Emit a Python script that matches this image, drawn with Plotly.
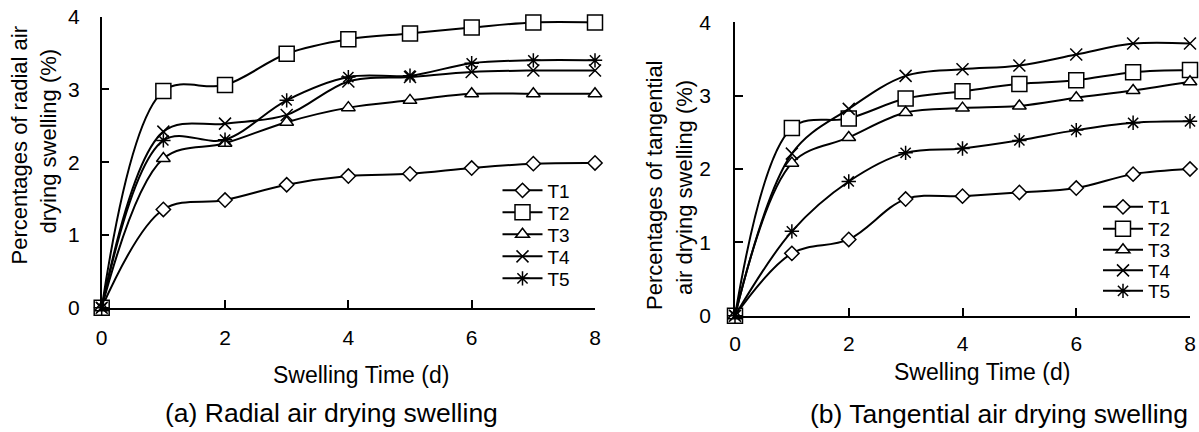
import plotly.graph_objects as go

# ---------------- data ----------------
days = [0, 1, 2, 3, 4, 5, 6, 7, 8]
series_names = ["T1", "T2", "T3", "T4", "T5"]

radial_T1 = [0, 1.35, 1.48, 1.69, 1.81, 1.84, 1.92, 1.98, 1.99]
radial_T2 = [0, 2.98, 3.06, 3.49, 3.69, 3.77, 3.85, 3.92, 3.92]
radial_T3 = [0, 2.05, 2.26, 2.55, 2.75, 2.85, 2.94, 2.94, 2.94]
radial_T4 = [0, 2.42, 2.53, 2.65, 3.11, 3.17, 3.24, 3.26, 3.26]
radial_T5 = [0, 2.30, 2.31, 2.85, 3.17, 3.19, 3.36, 3.40, 3.40]

tang_T1 = [0, 0.85, 1.04, 1.59, 1.63, 1.68, 1.74, 1.93, 2.00]
tang_T2 = [0, 2.56, 2.69, 2.96, 3.06, 3.16, 3.21, 3.32, 3.35]
tang_T3 = [0, 2.08, 2.43, 2.77, 2.83, 2.86, 2.97, 3.07, 3.19]
tang_T4 = [0, 2.21, 2.82, 3.27, 3.36, 3.41, 3.56, 3.71, 3.71]
tang_T5 = [0, 1.15, 1.83, 2.22, 2.28, 2.39, 2.53, 2.63, 2.65]

x_ticks = [0, 2, 4, 6, 8]
y_ticks = [0, 1, 2, 3, 4]

x_title = "Swelling Time (d)"
y_title_a = ["Percentages of radial air", "drying swelling (%)"]
y_title_b = ["Percentages of tangential", "air drying swelling (%)"]
caption_a = "(a) Radial air drying swelling"
caption_b = "(b) Tangential air drying swelling"

# ---------------- styling ----------------
W, H = 1199, 432
FONT = "Liberation Sans, Arial, sans-serif"
symbols = ["diamond", "square", "triangle-up", "x-thin-open", "asterisk-open"]
sizes = [11, 15, 12, 12, 12]
mcolors = ["white", "white", "white", "black", "black"]

def px(xp):
    return xp / W

def py(yp):
    return 1 - yp / H

fig = go.Figure()

radial = [radial_T1, radial_T2, radial_T3, radial_T4, radial_T5]
tang = [tang_T1, tang_T2, tang_T3, tang_T4, tang_T5]

leg_a_rows = [190.5, 212.5, 234.5, 256.5, 278.5]
leg_b_rows = [207.0, 229.0, 250.0, 270.5, 291.0]

for i, name in enumerate(series_names):
    for j, (data, xa, ya) in enumerate([(radial[i], "x", "y"), (tang[i], "x2", "y2")]):
        idx = 1 + i + 5 * j
        leg_id = "legend" if idx == 1 else f"legend{idx}"
        fig.add_trace(go.Scatter(
            x=days, y=data, name=name, mode="lines+markers",
            xaxis=xa, yaxis=ya, legend=leg_id, showlegend=True,
            line=dict(color="black", width=2, shape="spline", smoothing=1.0),
            marker=dict(symbol=symbols[i], size=sizes[i], color=mcolors[i],
                        line=dict(color="black", width=1.5)),
            cliponaxis=False,
        ))

axis_common = dict(
    showline=True, linecolor="black", linewidth=1.5,
    ticks="inside", ticklen=8, tickwidth=1.5, tickcolor="black",
    showgrid=False, zeroline=False, automargin=False,
    ticklabeloverflow="allow",
    tickfont=dict(family=FONT, size=21, color="black"),
)

layout = dict(
    template="none",
    width=W, height=H,
    margin=dict(l=0, r=0, t=0, b=0, autoexpand=False),
    paper_bgcolor="white", plot_bgcolor="white",
    showlegend=True,
    font=dict(family=FONT, color="black"),
    xaxis=dict(domain=[px(101.7), px(595)], range=[0, 8], tickvals=x_ticks,
               anchor="y", ticklabelstandoff=10, **axis_common),
    yaxis=dict(domain=[py(307.7), py(16.7)], range=[0, 4], tickvals=y_ticks,
               anchor="x", ticklabelstandoff=16, **axis_common),
    xaxis2=dict(domain=[px(735), px(1190)], range=[0, 8], tickvals=x_ticks,
                anchor="y2", ticklabelstandoff=8, **axis_common),
    yaxis2=dict(domain=[py(315.7), py(22.3)], range=[0, 4], tickvals=y_ticks,
                anchor="x2", ticklabelstandoff=18, **axis_common),
)

for k in range(10):
    key = "legend" if k == 0 else f"legend{k + 1}"
    if k < 5:
        lx, ly = px(497.5), py(leg_a_rows[k])
    else:
        lx, ly = px(1098), py(leg_b_rows[k - 5])
    layout[key] = dict(x=lx, y=ly, xanchor="left", yanchor="middle",
                       bgcolor="rgba(0,0,0,0)", borderwidth=0,
                       font=dict(family=FONT, size=19, color="black"),
                       itemwidth=40)

fig.update_layout(**layout)

ann = [
    dict(text=x_title, x=361, y=375, size=23, angle=0),
    dict(text=x_title, x=981.5, y=372, size=23, angle=0),
    dict(text=y_title_a[0], x=19, y=145.5, size=22, angle=-90),
    dict(text=y_title_a[1], x=48.5, y=141, size=22, angle=-90),
    dict(text=y_title_b[0], x=655, y=185, size=22, angle=-90),
    dict(text=y_title_b[1], x=685, y=188, size=22, angle=-90),
    dict(text=caption_a, x=331.7, y=413, size=26.5, angle=0),
    dict(text=caption_b, x=999, y=414, size=26.5, angle=0),
]
for a in ann:
    fig.add_annotation(text=a["text"], x=px(a["x"]), y=py(a["y"]),
                       xref="paper", yref="paper",
                       xanchor="center", yanchor="middle", showarrow=False,
                       textangle=a["angle"],
                       font=dict(family=FONT, size=a["size"], color="black"))

fig.write_html(
    "out.html",
    config={"displayModeBar": False},
    post_script="document.body.style.margin='0';document.body.style.overflow='hidden';",
)
